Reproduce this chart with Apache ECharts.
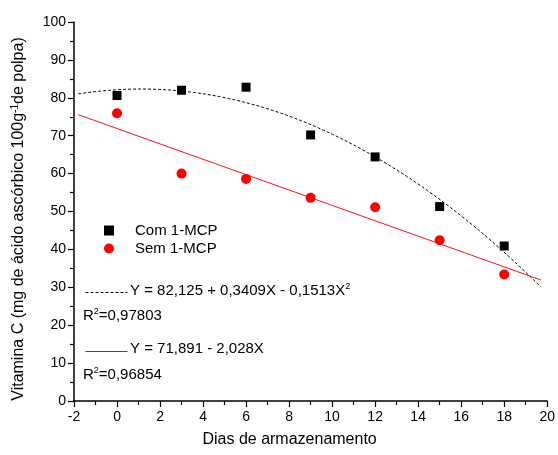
<!DOCTYPE html>
<html>
<head>
<meta charset="utf-8">
<script src="https://cdn.jsdelivr.net/npm/echarts@6/dist/echarts.min.js"></script>
<style>
  html, body { margin: 0; padding: 0; background: #fff; }
  #chart { width: 558px; height: 455px; }
</style>
</head>
<body>
<div id="chart"></div>
<script>
// Storage days at which vitamin C was measured
var days = [0, 3, 6, 9, 12, 15, 18];
// Vitamin C (mg ascorbic acid / 100 g pulp)
var comMCP = [80.6, 82.0, 82.8, 70.2, 64.4, 51.3, 40.9];
var semMCP = [75.9, 60.0, 58.6, 53.6, 51.1, 42.4, 33.4];

// Regression coefficients (constant, linear, quadratic)
var fitCom = [82.125, 0.3409, -0.1513];
var fitSem = [71.891, -2.028, 0];
var fitRange = [-1.8, 19.7];

var xTicks = [-2, 0, 2, 4, 6, 8, 10, 12, 14, 16, 18, 20];
var yTicks = [0, 10, 20, 30, 40, 50, 60, 70, 80, 90, 100];

function curve(c) {
  var pts = [];
  var n = 200;
  for (var i = 0; i <= n; i++) {
    var x = fitRange[0] + (fitRange[1] - fitRange[0]) * i / n;
    pts.push([x, c[0] + c[1] * x + c[2] * x * x]);
  }
  return pts;
}

var FONT = '"Liberation Sans", Arial, sans-serif';
var chart = echarts.init(document.getElementById('chart'));

var supStyle = { fontSize: 9, fontFamily: FONT, fill: '#000', color: '#000', verticalAlign: 'top', padding: [0, 0, 8, 0] };

// equation block: key line + equation + R²
function eqBlock(top, dash, color, eq, r2) {
  return [
    {
      type: 'line', left: 83, top: top + 8,
      shape: { x1: 0, y1: 0, x2: 42, y2: 0 },
      style: { stroke: color, lineWidth: 1, lineDash: dash }
    },
    {
      type: 'text', left: 130, top: top,
      style: { text: eq, font: '15px ' + FONT, fill: '#000', rich: { sup: supStyle } }
    },
    {
      type: 'text', left: 83, top: top + 25,
      style: { text: r2, font: '15px ' + FONT, fill: '#000', rich: { sup: supStyle } }
    }
  ];
}

chart.setOption({
  animation: false,
  grid: { left: 74, right: 5, top: 22, bottom: 54 },
  xAxis: {
    type: 'value',
    min: xTicks[0], max: xTicks[xTicks.length - 1], interval: 2,
    name: 'Dias de armazenamento',
    nameLocation: 'middle',
    nameGap: 31,
    nameTextStyle: { fontSize: 16, fontFamily: FONT, color: '#000', padding: [0, 42, 0, 0] },
    axisLine: { onZero: false, lineStyle: { color: '#000', width: 1.5 } },
    axisTick: { length: 6, lineStyle: { color: '#000', width: 1.2 } },
    minorTick: { show: true, splitNumber: 2, length: 4, lineStyle: { color: '#000', width: 1.2 } },
    axisLabel: { fontSize: 14, fontFamily: FONT, color: '#000', margin: 9 },
    splitLine: { show: false }
  },
  yAxis: {
    type: 'value',
    min: yTicks[0], max: yTicks[yTicks.length - 1], interval: 10,
    name: 'Vitamina C (mg de ácido ascórbico 100g{sup|-1}de polpa)',
    nameLocation: 'middle',
    nameRotate: 90,
    nameGap: 46,
    nameTextStyle: {
      fontSize: 16, fontFamily: FONT, color: '#000',
      padding: [0, 15, 0, 0],
      rich: { sup: { fontSize: 10, fontFamily: FONT, color: '#000', verticalAlign: 'top', padding: [0, 0, 8, 0] } }
    },
    axisLine: { show: true, onZero: false, lineStyle: { color: '#000', width: 1.5 } },
    axisTick: { show: true, length: 6, lineStyle: { color: '#000', width: 1.2 } },
    minorTick: { show: true, splitNumber: 2, length: 4, lineStyle: { color: '#000', width: 1.2 } },
    axisLabel: { fontSize: 14, fontFamily: FONT, color: '#000', margin: 8 },
    splitLine: { show: false }
  },
  legend: {
    data: ['Com 1-MCP', 'Sem 1-MCP'],
    orient: 'vertical',
    left: 99, top: 218,
    itemWidth: 10, itemHeight: 10, itemGap: 3,
    textStyle: { fontSize: 15, fontFamily: FONT, color: '#000', padding: [0, 0, 0, 16] }
  },
  graphic: eqBlock(282, [3, 2], '#000', 'Y = 82,125 + 0,3409X - 0,1513X{sup|2}', 'R{sup|2}=0,97803')
    .concat(eqBlock(341, null, '#ff0000', 'Y = 71,891 - 2,028X', 'R{sup|2}=0,96854')),
  series: [
    {
      name: 'fitCom', type: 'line', data: curve(fitCom),
      showSymbol: false, symbol: 'none',
      lineStyle: { color: '#000', width: 1, type: [3, 2] },
      itemStyle: { color: '#000' }, z: 2
    },
    {
      name: 'fitSem', type: 'line', data: curve(fitSem),
      showSymbol: false, symbol: 'none',
      lineStyle: { color: '#ff0000', width: 1 },
      itemStyle: { color: '#ff0000' }, z: 2
    },
    {
      name: 'Com 1-MCP', type: 'scatter', symbol: 'rect', symbolSize: 9,
      data: days.map(function (d, i) { return [d, comMCP[i]]; }),
      itemStyle: { color: '#000', opacity: 1 }, z: 3
    },
    {
      name: 'Sem 1-MCP', type: 'scatter', symbol: 'circle', symbolSize: 10,
      data: days.map(function (d, i) { return [d, semMCP[i]]; }),
      itemStyle: { color: '#ff0000', opacity: 1 }, z: 3
    }
  ]
});
</script>
</body>
</html>
